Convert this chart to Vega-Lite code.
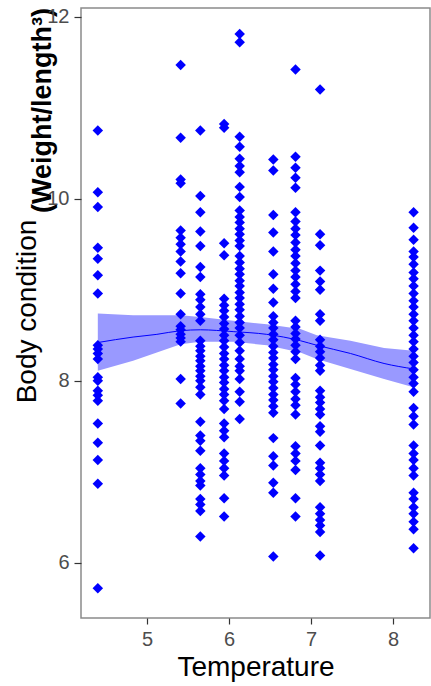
{
  "$schema": "https://vega.github.io/schema/vega-lite/v6.json",
  "width": 349,
  "height": 610,
  "autosize": {"type": "none"},
  "padding": {"left": 81, "top": 8, "right": 1, "bottom": 68},
  "background": "white",
  "config": {
    "view": {"stroke": "#8a8a8a", "strokeWidth": 1.5},
    "axis": {
      "grid": false,
      "domain": false,
      "labelFont": "Liberation Sans",
      "labelFontSize": 20,
      "labelColor": "#4d4d4d",
      "tickColor": "#333333",
      "tickWidth": 1.2,
      "titleFont": "Liberation Sans",
      "titleFontSize": 28,
      "titleFontWeight": "normal",
      "titleColor": "#000000"
    }
  },
  "datasets": {
    "fish": [
      {"t": 4.40, "bc": 10.75}, {"t": 4.40, "bc": 10.07}, {"t": 4.40, "bc": 9.91}, {"t": 4.40, "bc": 9.46},
      {"t": 4.40, "bc": 9.34}, {"t": 4.40, "bc": 9.16}, {"t": 4.40, "bc": 8.96}, {"t": 4.40, "bc": 8.39},
      {"t": 4.40, "bc": 8.35}, {"t": 4.40, "bc": 8.30}, {"t": 4.40, "bc": 8.24}, {"t": 4.40, "bc": 8.04},
      {"t": 4.40, "bc": 8.00}, {"t": 4.40, "bc": 7.89}, {"t": 4.40, "bc": 7.84}, {"t": 4.40, "bc": 7.78},
      {"t": 4.40, "bc": 7.53}, {"t": 4.40, "bc": 7.32}, {"t": 4.40, "bc": 7.13}, {"t": 4.40, "bc": 6.87},
      {"t": 4.40, "bc": 5.72},
      {"t": 5.41, "bc": 11.47}, {"t": 5.41, "bc": 10.67}, {"t": 5.41, "bc": 10.21}, {"t": 5.41, "bc": 10.17},
      {"t": 5.41, "bc": 9.65}, {"t": 5.41, "bc": 9.57}, {"t": 5.41, "bc": 9.50}, {"t": 5.41, "bc": 9.42},
      {"t": 5.41, "bc": 9.31}, {"t": 5.41, "bc": 9.18}, {"t": 5.41, "bc": 8.96}, {"t": 5.41, "bc": 8.73},
      {"t": 5.41, "bc": 8.60}, {"t": 5.41, "bc": 8.56}, {"t": 5.41, "bc": 8.51}, {"t": 5.41, "bc": 8.47},
      {"t": 5.41, "bc": 8.43}, {"t": 5.41, "bc": 8.02}, {"t": 5.41, "bc": 7.75},
      {"t": 5.65, "bc": 10.75}, {"t": 5.65, "bc": 10.03}, {"t": 5.65, "bc": 9.85}, {"t": 5.65, "bc": 9.64},
      {"t": 5.65, "bc": 9.48}, {"t": 5.65, "bc": 9.25}, {"t": 5.65, "bc": 9.14}, {"t": 5.65, "bc": 8.95},
      {"t": 5.65, "bc": 8.89}, {"t": 5.65, "bc": 8.81}, {"t": 5.65, "bc": 8.73}, {"t": 5.65, "bc": 8.66},
      {"t": 5.65, "bc": 8.44}, {"t": 5.65, "bc": 8.38}, {"t": 5.65, "bc": 8.33}, {"t": 5.65, "bc": 8.27},
      {"t": 5.65, "bc": 8.22}, {"t": 5.65, "bc": 8.16}, {"t": 5.65, "bc": 8.11}, {"t": 5.65, "bc": 8.05},
      {"t": 5.65, "bc": 8.00}, {"t": 5.65, "bc": 7.93}, {"t": 5.65, "bc": 7.85}, {"t": 5.65, "bc": 7.55},
      {"t": 5.65, "bc": 7.40}, {"t": 5.65, "bc": 7.34}, {"t": 5.65, "bc": 7.23}, {"t": 5.65, "bc": 7.04},
      {"t": 5.65, "bc": 6.97}, {"t": 5.65, "bc": 6.90}, {"t": 5.65, "bc": 6.85}, {"t": 5.65, "bc": 6.70},
      {"t": 5.65, "bc": 6.64}, {"t": 5.65, "bc": 6.57}, {"t": 5.65, "bc": 6.29},
      {"t": 5.94, "bc": 10.82}, {"t": 5.94, "bc": 10.78}, {"t": 5.94, "bc": 9.51}, {"t": 5.94, "bc": 9.38},
      {"t": 5.94, "bc": 8.90}, {"t": 5.94, "bc": 8.83}, {"t": 5.94, "bc": 8.77}, {"t": 5.94, "bc": 8.70},
      {"t": 5.94, "bc": 8.63}, {"t": 5.94, "bc": 8.57}, {"t": 5.94, "bc": 8.50}, {"t": 5.94, "bc": 8.44},
      {"t": 5.94, "bc": 8.37}, {"t": 5.94, "bc": 8.30}, {"t": 5.94, "bc": 8.24}, {"t": 5.94, "bc": 8.17},
      {"t": 5.94, "bc": 8.11}, {"t": 5.94, "bc": 8.04}, {"t": 5.94, "bc": 7.98}, {"t": 5.94, "bc": 7.91},
      {"t": 5.94, "bc": 7.85}, {"t": 5.94, "bc": 7.78}, {"t": 5.94, "bc": 7.69}, {"t": 5.94, "bc": 7.53},
      {"t": 5.94, "bc": 7.45}, {"t": 5.94, "bc": 7.38}, {"t": 5.94, "bc": 7.20}, {"t": 5.94, "bc": 7.12},
      {"t": 5.94, "bc": 7.04}, {"t": 5.94, "bc": 6.96}, {"t": 5.94, "bc": 6.71}, {"t": 5.94, "bc": 6.51},
      {"t": 6.13, "bc": 11.81}, {"t": 6.13, "bc": 11.72}, {"t": 6.13, "bc": 10.68}, {"t": 6.13, "bc": 10.57},
      {"t": 6.13, "bc": 10.44}, {"t": 6.13, "bc": 10.36}, {"t": 6.13, "bc": 10.29}, {"t": 6.13, "bc": 10.13},
      {"t": 6.13, "bc": 10.02}, {"t": 6.13, "bc": 9.87}, {"t": 6.13, "bc": 9.80}, {"t": 6.13, "bc": 9.74},
      {"t": 6.13, "bc": 9.67}, {"t": 6.13, "bc": 9.61}, {"t": 6.13, "bc": 9.54}, {"t": 6.13, "bc": 9.48},
      {"t": 6.13, "bc": 9.37}, {"t": 6.13, "bc": 9.30}, {"t": 6.13, "bc": 9.23}, {"t": 6.13, "bc": 9.17},
      {"t": 6.13, "bc": 9.10}, {"t": 6.13, "bc": 9.04}, {"t": 6.13, "bc": 8.97}, {"t": 6.13, "bc": 8.91},
      {"t": 6.13, "bc": 8.84}, {"t": 6.13, "bc": 8.78}, {"t": 6.13, "bc": 8.71}, {"t": 6.13, "bc": 8.64},
      {"t": 6.13, "bc": 8.58}, {"t": 6.13, "bc": 8.50}, {"t": 6.13, "bc": 8.42}, {"t": 6.13, "bc": 8.33},
      {"t": 6.13, "bc": 8.24}, {"t": 6.13, "bc": 8.16}, {"t": 6.13, "bc": 8.11}, {"t": 6.13, "bc": 8.02},
      {"t": 6.13, "bc": 7.88}, {"t": 6.13, "bc": 7.77}, {"t": 6.13, "bc": 7.58},
      {"t": 6.54, "bc": 10.43}, {"t": 6.54, "bc": 10.31}, {"t": 6.54, "bc": 9.82}, {"t": 6.54, "bc": 9.63},
      {"t": 6.54, "bc": 9.42}, {"t": 6.54, "bc": 9.17}, {"t": 6.54, "bc": 9.01}, {"t": 6.54, "bc": 8.86},
      {"t": 6.54, "bc": 8.71}, {"t": 6.54, "bc": 8.64}, {"t": 6.54, "bc": 8.58}, {"t": 6.54, "bc": 8.51},
      {"t": 6.54, "bc": 8.45}, {"t": 6.54, "bc": 8.38}, {"t": 6.54, "bc": 8.31}, {"t": 6.54, "bc": 8.25},
      {"t": 6.54, "bc": 8.18}, {"t": 6.54, "bc": 8.12}, {"t": 6.54, "bc": 8.05}, {"t": 6.54, "bc": 7.99},
      {"t": 6.54, "bc": 7.92}, {"t": 6.54, "bc": 7.85}, {"t": 6.54, "bc": 7.79}, {"t": 6.54, "bc": 7.72},
      {"t": 6.54, "bc": 7.65}, {"t": 6.54, "bc": 7.37}, {"t": 6.54, "bc": 7.17}, {"t": 6.54, "bc": 7.07},
      {"t": 6.54, "bc": 6.88}, {"t": 6.54, "bc": 6.77}, {"t": 6.54, "bc": 6.07},
      {"t": 6.81, "bc": 11.42}, {"t": 6.81, "bc": 10.46}, {"t": 6.81, "bc": 10.34}, {"t": 6.81, "bc": 10.23},
      {"t": 6.81, "bc": 10.12}, {"t": 6.81, "bc": 9.85}, {"t": 6.81, "bc": 9.75}, {"t": 6.81, "bc": 9.67},
      {"t": 6.81, "bc": 9.60}, {"t": 6.81, "bc": 9.52}, {"t": 6.81, "bc": 9.44}, {"t": 6.81, "bc": 9.37},
      {"t": 6.81, "bc": 9.29}, {"t": 6.81, "bc": 9.21}, {"t": 6.81, "bc": 9.14}, {"t": 6.81, "bc": 9.06},
      {"t": 6.81, "bc": 8.98}, {"t": 6.81, "bc": 8.91}, {"t": 6.81, "bc": 8.66}, {"t": 6.81, "bc": 8.59},
      {"t": 6.81, "bc": 8.52}, {"t": 6.81, "bc": 8.46}, {"t": 6.81, "bc": 8.39}, {"t": 6.81, "bc": 8.32},
      {"t": 6.81, "bc": 8.24}, {"t": 6.81, "bc": 8.03}, {"t": 6.81, "bc": 7.96}, {"t": 6.81, "bc": 7.88},
      {"t": 6.81, "bc": 7.80}, {"t": 6.81, "bc": 7.73}, {"t": 6.81, "bc": 7.63}, {"t": 6.81, "bc": 7.28},
      {"t": 6.81, "bc": 7.20}, {"t": 6.81, "bc": 7.12}, {"t": 6.81, "bc": 7.02}, {"t": 6.81, "bc": 6.71},
      {"t": 6.81, "bc": 6.51},
      {"t": 7.11, "bc": 11.20}, {"t": 7.11, "bc": 9.61}, {"t": 7.11, "bc": 9.49}, {"t": 7.11, "bc": 9.21},
      {"t": 7.11, "bc": 9.09}, {"t": 7.11, "bc": 9.00}, {"t": 7.11, "bc": 8.73}, {"t": 7.11, "bc": 8.66},
      {"t": 7.11, "bc": 8.45}, {"t": 7.11, "bc": 8.38}, {"t": 7.11, "bc": 8.32}, {"t": 7.11, "bc": 8.25},
      {"t": 7.11, "bc": 8.17}, {"t": 7.11, "bc": 8.11}, {"t": 7.11, "bc": 7.89}, {"t": 7.11, "bc": 7.82},
      {"t": 7.11, "bc": 7.76}, {"t": 7.11, "bc": 7.69}, {"t": 7.11, "bc": 7.63}, {"t": 7.11, "bc": 7.50},
      {"t": 7.11, "bc": 7.44}, {"t": 7.11, "bc": 7.29}, {"t": 7.11, "bc": 7.10}, {"t": 7.11, "bc": 7.04},
      {"t": 7.11, "bc": 6.97}, {"t": 7.11, "bc": 6.90}, {"t": 7.11, "bc": 6.61}, {"t": 7.11, "bc": 6.54},
      {"t": 7.11, "bc": 6.47}, {"t": 7.11, "bc": 6.41}, {"t": 7.11, "bc": 6.34}, {"t": 7.11, "bc": 6.08},
      {"t": 8.25, "bc": 9.85}, {"t": 8.25, "bc": 9.68}, {"t": 8.25, "bc": 9.55}, {"t": 8.25, "bc": 9.42},
      {"t": 8.25, "bc": 9.36}, {"t": 8.25, "bc": 9.28}, {"t": 8.25, "bc": 9.19}, {"t": 8.25, "bc": 9.12},
      {"t": 8.25, "bc": 9.04}, {"t": 8.25, "bc": 8.96}, {"t": 8.25, "bc": 8.88}, {"t": 8.25, "bc": 8.81},
      {"t": 8.25, "bc": 8.73}, {"t": 8.25, "bc": 8.66}, {"t": 8.25, "bc": 8.58}, {"t": 8.25, "bc": 8.50},
      {"t": 8.25, "bc": 8.43}, {"t": 8.25, "bc": 8.35}, {"t": 8.25, "bc": 8.27}, {"t": 8.25, "bc": 8.20},
      {"t": 8.25, "bc": 8.12}, {"t": 8.25, "bc": 8.04}, {"t": 8.25, "bc": 7.97}, {"t": 8.25, "bc": 7.88},
      {"t": 8.25, "bc": 7.70}, {"t": 8.25, "bc": 7.61}, {"t": 8.25, "bc": 7.52}, {"t": 8.25, "bc": 7.29},
      {"t": 8.25, "bc": 7.20}, {"t": 8.25, "bc": 7.13}, {"t": 8.25, "bc": 7.04}, {"t": 8.25, "bc": 6.96},
      {"t": 8.25, "bc": 6.77}, {"t": 8.25, "bc": 6.70}, {"t": 8.25, "bc": 6.61}, {"t": 8.25, "bc": 6.54},
      {"t": 8.25, "bc": 6.45}, {"t": 8.25, "bc": 6.37}, {"t": 8.25, "bc": 6.16}
    ],
    "smooth": [
      {"t": 4.40, "fit": 8.42, "lo": 8.11, "hi": 8.74},
      {"t": 4.83, "fit": 8.48, "lo": 8.22, "hi": 8.72},
      {"t": 5.12, "fit": 8.51, "lo": 8.31, "hi": 8.72},
      {"t": 5.41, "fit": 8.55, "lo": 8.40, "hi": 8.72},
      {"t": 5.65, "fit": 8.56, "lo": 8.43, "hi": 8.70},
      {"t": 6.05, "fit": 8.54, "lo": 8.43, "hi": 8.66},
      {"t": 6.46, "fit": 8.51, "lo": 8.39, "hi": 8.62},
      {"t": 6.87, "fit": 8.44, "lo": 8.31, "hi": 8.57},
      {"t": 7.07, "fit": 8.39, "lo": 8.24, "hi": 8.50},
      {"t": 7.48, "fit": 8.30, "lo": 8.13, "hi": 8.44},
      {"t": 7.89, "fit": 8.19, "lo": 8.02, "hi": 8.36},
      {"t": 8.25, "fit": 8.13, "lo": 7.93, "hi": 8.33}
    ]
  },
  "resolve": {"axis": {"y": "independent"}},
  "layer": [
    {
      "data": {"name": "smooth"},
      "mark": {"type": "area", "color": "#9999ff", "opacity": 1},
      "encoding": {
        "x": {
          "field": "t", "type": "quantitative",
          "scale": {"domain": [4.195, 8.45], "nice": false, "zero": false},
          "axis": {
            "title": "Temperature", "values": [5, 6, 7, 8], "format": "d", "tickSize": 6,
            "labelPadding": 5, "titleX": 174.5, "titleY": 57,
            "titleBaseline": "alphabetic", "titleAlign": "center"
          }
        },
        "y": {
          "field": "lo", "type": "quantitative",
          "scale": {"domain": [5.394, 12.095], "nice": false, "zero": false},
          "axis": {
            "orient": "left", "title": "(Weight/length³)", "labels": false,
            "ticks": false, "titleFontWeight": "bold", "titleFontSize": 27,
            "titleAngle": -90, "titleX": -31, "titleY": 102,
            "titleAlign": "center", "titleBaseline": "alphabetic"
          }
        },
        "y2": {"field": "hi"}
      }
    },
    {
      "data": {"name": "fish"},
      "mark": {"type": "point", "shape": "diamond", "filled": true, "size": 110, "color": "#0000ff", "opacity": 1, "strokeWidth": 0},
      "encoding": {
        "x": {"field": "t", "type": "quantitative"},
        "y": {
          "field": "bc", "type": "quantitative",
          "scale": {"domain": [5.394, 12.095], "nice": false, "zero": false},
          "axis": {
            "orient": "left", "title": "Body condition", "values": [6, 8, 10, 12],
            "tickSize": 7, "labelPadding": 5,
            "titleAngle": -90, "titleX": -46, "titleY": 303,
            "titleAlign": "center", "titleBaseline": "alphabetic"
          }
        }
      }
    },
    {
      "data": {"name": "smooth"},
      "mark": {"type": "line", "color": "#0000ff", "strokeWidth": 1, "interpolate": "monotone"},
      "encoding": {
        "x": {"field": "t", "type": "quantitative"},
        "y": {"field": "fit", "type": "quantitative", "axis": null}
      }
    }
  ]
}
